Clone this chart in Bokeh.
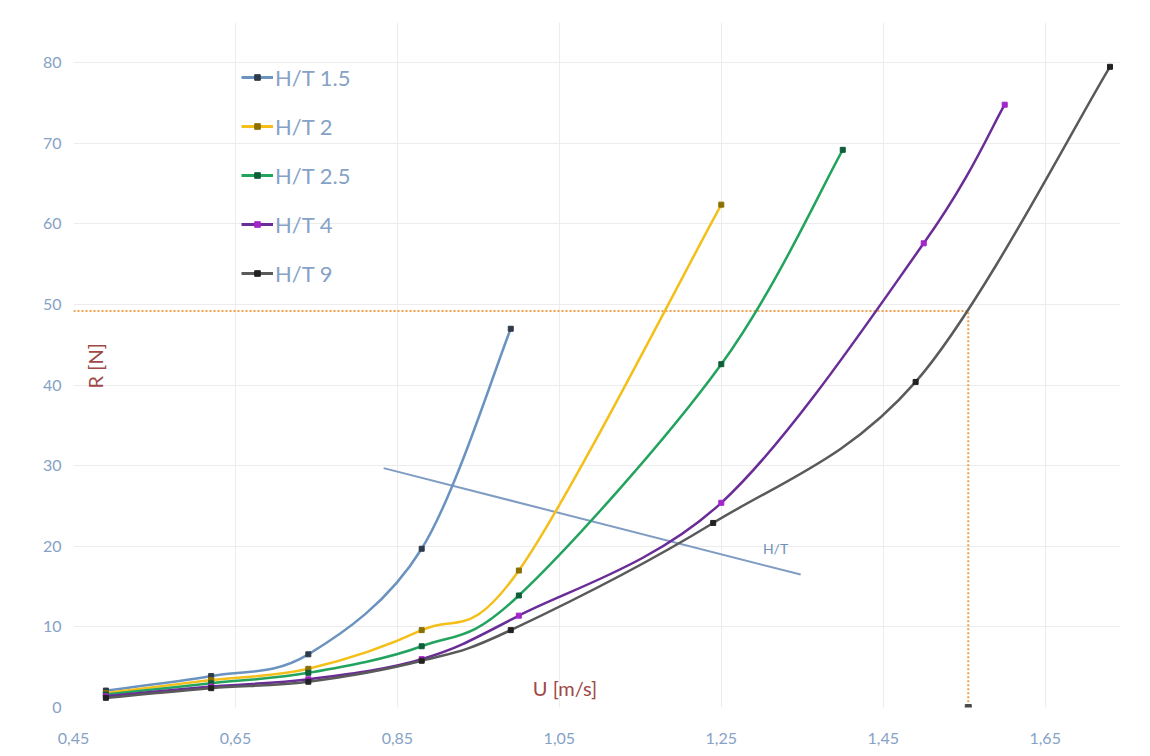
import numpy as np
from bokeh.plotting import figure
from bokeh.models import FixedTicker, Label, Legend, LegendItem, Range1d
from bokeh.embed import file_html
from bokeh.resources import INLINE

# ---- data ----
names = ["H/T 1.5", "H/T 2", "H/T 2.5", "H/T 4", "H/T 9"]
u_15 = [0.49, 0.62, 0.74, 0.88, 0.99]
r_15 = [2.1, 3.9, 6.6, 19.7, 47.0]
u_2 = [0.49, 0.62, 0.74, 0.88, 1.00, 1.25]
r_2 = [1.8, 3.4, 4.8, 9.6, 17.0, 62.4]
u_25 = [0.49, 0.62, 0.74, 0.88, 1.00, 1.25, 1.40]
r_25 = [1.6, 3.0, 4.3, 7.6, 13.9, 42.6, 69.2]
u_4 = [0.49, 0.62, 0.74, 0.88, 1.00, 1.25, 1.50, 1.60]
r_4 = [1.4, 2.6, 3.5, 6.0, 11.4, 25.4, 57.6, 74.8]
u_9 = [0.49, 0.62, 0.74, 0.88, 0.99, 1.24, 1.49, 1.73]
r_9 = [1.2, 2.4, 3.2, 5.8, 9.6, 22.9, 40.4, 79.5]

# reading guide (R = 49 N -> U = 1.555 m/s)
guide_u = [0.45, 1.555, 1.555]
guide_r = [49.2, 49.2, 0.0]

# trend arrow "H/T"
trend_u = [0.833, 1.348]
trend_r = [29.7, 16.5]

x_ticks = [0.45, 0.65, 0.85, 1.05, 1.25, 1.45, 1.65]
x_tick_labels = ["0,45", "0,65", "0,85", "1,05", "1,25", "1,45", "1,65"]
y_ticks = [0, 10, 20, 30, 40, 50, 60, 70, 80]

line_colors = ["#6b93bf", "#f5bf1a", "#22a35e", "#6a2c96", "#5a5a5a"]
marker_colors = ["#2f3b4a", "#8a7000", "#0f5e3a", "#a326c8", "#222222"]

FONT = "Lato"

p = figure(width=1134, height=748, output_backend="svg", toolbar_location=None,
           x_range=Range1d(0.45, 1.743), y_range=Range1d(0, 85),
           min_border_left=73, min_border_right=14, min_border_top=22,
           min_border_bottom=41)
p.outline_line_color = None
p.background_fill_color = "white"
p.border_fill_color = "white"

for ax in (p.xaxis[0], p.yaxis[0]):
    ax.axis_line_color = None
    ax.major_tick_line_color = None
    ax.minor_tick_line_color = None
    ax.major_label_text_color = "#86a2c6"
    ax.major_label_text_font = FONT
    ax.major_label_text_font_size = "16px"
p.xaxis[0].ticker = FixedTicker(ticks=x_ticks)
p.xaxis[0].major_label_overrides = {t: l for t, l in zip(x_ticks, x_tick_labels)}
p.xaxis[0].major_label_standoff = 19
p.yaxis[0].ticker = FixedTicker(ticks=y_ticks)
p.yaxis[0].major_label_standoff = 6

p.xgrid[0].ticker = FixedTicker(ticks=x_ticks)
p.ygrid[0].ticker = FixedTicker(ticks=y_ticks)
p.xgrid.grid_line_color = "#ececec"
p.ygrid.grid_line_color = "#ececec"


def smooth_segments(xs, ys):
    """Catmull-Rom control points (as Excel smoothed lines) from the data points."""
    x = np.asarray(xs, float)
    y = np.asarray(ys, float)
    n = len(x)
    x0, y0, x1, y1, cx0, cy0, cx1, cy1 = ([] for _ in range(8))
    for i in range(n - 1):
        xm = x[i - 1] if i > 0 else x[i]
        ym = y[i - 1] if i > 0 else y[i]
        xp = x[i + 2] if i + 2 < n else x[i + 1]
        yp = y[i + 2] if i + 2 < n else y[i + 1]
        x0.append(x[i]); y0.append(y[i]); x1.append(x[i + 1]); y1.append(y[i + 1])
        cx0.append(x[i] + (x[i + 1] - xm) / 6.0)
        cy0.append(y[i] + (y[i + 1] - ym) / 6.0)
        cx1.append(x[i + 1] - (xp - x[i]) / 6.0)
        cy1.append(y[i + 1] - (yp - y[i]) / 6.0)
    return dict(x0=x0, y0=y0, x1=x1, y1=y1, cx0=cx0, cy0=cy0, cx1=cx1, cy1=cy1)


# reading guide
p.line(guide_u, guide_r, line_color="#f0a050", line_width=2, line_dash="2 2")
p.scatter([guide_u[-1]], [guide_r[-1]], marker="square", size=6,
          fill_color="#4a4a4a", line_color="#4a4a4a")

# trend line
p.line(trend_u, trend_r, line_color="#7f9cc2", line_width=2)

series = [(u_15, r_15), (u_2, r_2), (u_25, r_25), (u_4, r_4), (u_9, r_9)]
items = []
for (u, r), name, lc, mc in zip(series, names, line_colors, marker_colors):
    seg = smooth_segments(u, r)
    p.bezier(x0=seg["x0"], y0=seg["y0"], x1=seg["x1"], y1=seg["y1"],
             cx0=seg["cx0"], cy0=seg["cy0"], cx1=seg["cx1"], cy1=seg["cy1"],
             line_color=lc, line_width=2.5)
    mk = p.scatter(u, r, marker="square", size=5, fill_color=mc, line_color=mc)
    # legend proxy: short line plus marker
    lg = p.line([u[0]], [r[0]], line_color=lc, line_width=3)
    items.append(LegendItem(label=name, renderers=[lg, mk]))

legend = Legend(items=items, location=(168, 419), orientation="vertical",
                label_text_font=FONT, label_text_font_size="22px",
                label_text_color="#86a2c6", glyph_width=32, glyph_height=14,
                label_height=30, spacing=19, padding=0, margin=0,
                label_standoff=2, background_fill_alpha=0,
                border_line_color=None)
p.add_layout(legend)

p.add_layout(Label(x=1.317, y=19.7, text="H/T", text_font=FONT,
                   text_font_size="14px", text_color="#6f8fb8",
                   text_align="center", text_baseline="middle"))
p.add_layout(Label(x=0.477, y=42.4, text="R [N]", text_font=FONT,
                   text_font_size="20px", text_color="#a04848", angle=np.pi / 2,
                   text_align="center", text_baseline="middle"))
p.add_layout(Label(x=1.057, y=2.4, text="U [m/s]", text_font=FONT,
                   text_font_size="20px", text_color="#a04848",
                   text_align="center", text_baseline="middle"))

open("out.html", "w").write(file_html(p, INLINE))
